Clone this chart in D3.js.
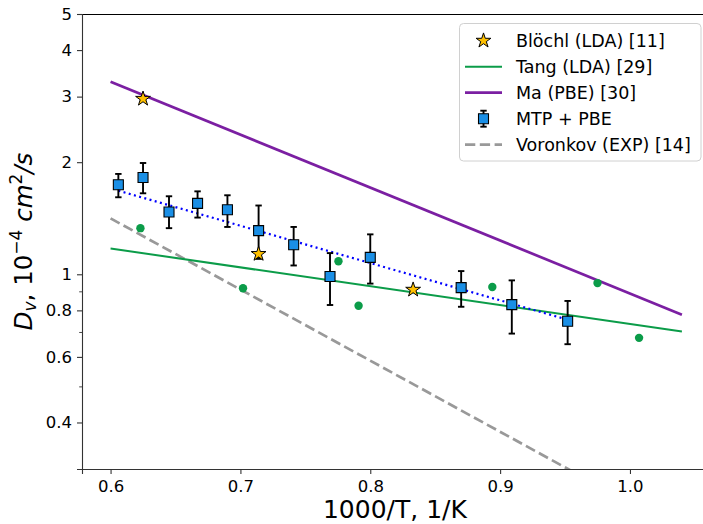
<!DOCTYPE html>
<html><head><meta charset="utf-8">
<script src="https://cdn.jsdelivr.net/npm/d3@7"></script>
<style>
html,body{margin:0;padding:0;background:#fff;}
svg{display:block;font-family:"DejaVu Sans",sans-serif;}
</style></head>
<body>
<svg id="chart" width="703" height="524"></svg>
<script>
// ---- data ----
const xTicks = [0.6, 0.7, 0.8, 0.9, 1.0];
const xTickLabels = ["0.6", "0.7", "0.8", "0.9", "1.0"];
const yMajorTicks = [0.4, 0.6, 0.8, 1, 2, 3, 4, 5];
const yMajorLabels = ["0.4", "0.6", "0.8", "1", "2", "3", "4", "5"];
const yMinorTicks = [0.3, 0.5, 0.7, 0.9];

const mtpX  = [0.606, 0.625, 0.645, 0.667, 0.690, 0.714, 0.741, 0.769, 0.800, 0.870, 0.909, 0.952];
const mtpY  = [1.74, 1.82, 1.47, 1.55, 1.49, 1.31, 1.20, 0.986, 1.11, 0.921, 0.829, 0.748];
const mtpLo = [1.61, 1.65, 1.33, 1.42, 1.34, 1.10, 1.056, 0.827, 0.944, 0.818, 0.693, 0.649];
const mtpHi = [1.86, 1.99, 1.62, 1.67, 1.63, 1.53, 1.34, 1.14, 1.28, 1.02, 0.963, 0.848];
const fitX = [0.606, 0.952];
const fitY = [1.677, 0.755];

const blochlX = [0.625, 0.714, 0.833];
const blochlY = [2.96, 1.134, 0.909];

const tangPtX = [0.623, 0.702, 0.7755, 0.791, 0.894, 0.975, 1.007];
const tangPtY = [1.33, 0.917, 1.084, 0.823, 0.924, 0.947, 0.675];
const tangX = [0.6, 1.04];
const tangY = [1.173, 0.702];

const maX = [0.6, 1.04];
const maY = [3.29, 0.779];

const vorX = [0.6, 1.04];
const vorY = [1.413, 0.204];

const legendLabels = ["Blöchl (LDA) [11]", "Tang (LDA) [29]", "Ma (PBE) [30]", "MTP + PBE", "Voronkov (EXP) [14]"];

// ---- layout ----
const svg = d3.select("#chart");
const L = 82, T = 14, B = 469;
const x = d3.scaleLinear().domain([0.578, 1.06]).range([L, L + 0.482 * 1298.5]);
const y = d3.scaleLog().domain([0.3, 5]).range([B, T]);
const R = x.range()[1];

const C = {
  star: "#ffc000", sq: "#1a8fe6", green: "#0b9c49", purple: "#7b1fa2",
  gray: "#999999", blue: "#0000ff"
};

svg.append("defs").append("clipPath").attr("id", "clip")
  .append("rect").attr("x", L).attr("y", T).attr("width", R - L).attr("height", B - T);

const plot = svg.append("g").attr("clip-path", "url(#clip)");
const line = d3.line().x(d => x(d[0])).y(d => y(d[1]));
const pairs = (xs, ys) => xs.map((v, i) => [v, ys[i]]);

// lines
plot.append("path").datum(pairs(vorX, vorY)).attr("d", line)
  .attr("fill", "none").attr("stroke", C.gray).attr("stroke-width", 2.7).attr("stroke-dasharray", "10.3,4.5");
plot.append("path").datum(pairs(tangX, tangY)).attr("d", line)
  .attr("fill", "none").attr("stroke", C.green).attr("stroke-width", 2);
plot.append("path").datum(pairs(maX, maY)).attr("d", line)
  .attr("fill", "none").attr("stroke", C.purple).attr("stroke-width", 2.7);

// Tang points
plot.selectAll("circle.tang").data(pairs(tangPtX, tangPtY)).enter().append("circle")
  .attr("cx", d => x(d[0])).attr("cy", d => y(d[1])).attr("r", 4.2).attr("fill", C.green);

// fit line
plot.append("path").datum(pairs(fitX, fitY)).attr("d", line)
  .attr("fill", "none").attr("stroke", C.blue).attr("stroke-width", 2.2).attr("stroke-dasharray", "2,3.4");

// error bars
const eb = plot.selectAll("g.eb").data(mtpX.map((v, i) => i)).enter().append("g");
eb.append("line").attr("x1", i => x(mtpX[i])).attr("x2", i => x(mtpX[i]))
  .attr("y1", i => y(mtpLo[i])).attr("y2", i => y(mtpHi[i])).attr("stroke", "#000").attr("stroke-width", 1.9);
[mtpLo, mtpHi].forEach(arr => {
  eb.append("line").attr("x1", i => x(mtpX[i]) - 3.2).attr("x2", i => x(mtpX[i]) + 3.2)
    .attr("y1", i => y(arr[i])).attr("y2", i => y(arr[i])).attr("stroke", "#000").attr("stroke-width", 1.9);
});
const sq = d3.symbol().type(d3.symbolSquare).size(100);
plot.selectAll("path.sq").data(pairs(mtpX, mtpY)).enter().append("path")
  .attr("d", sq).attr("transform", d => `translate(${x(d[0])},${y(d[1])})`)
  .attr("fill", C.sq).attr("stroke", "#000").attr("stroke-width", 1.1);

// stars
const star = d3.symbol().type(d3.symbolStar).size(68);
plot.selectAll("path.star").data(pairs(blochlX, blochlY)).enter().append("path")
  .attr("d", star).attr("transform", d => `translate(${x(d[0])},${y(d[1])})`)
  .attr("fill", C.star).attr("stroke", "#000").attr("stroke-width", 1);

// ---- axes ----
const ax = svg.append("g");
ax.append("line").attr("x1", L).attr("x2", R).attr("y1", T + 0.5).attr("y2", T + 0.5).attr("stroke", "#000").attr("stroke-width", 1.1);
ax.append("line").attr("x1", R).attr("x2", R).attr("y1", T).attr("y2", B).attr("stroke", "#000").attr("stroke-width", 1.1);

const xAxis = d3.axisBottom(x).tickValues(xTicks).tickSize(5).tickPadding(6)
  .tickFormat((d, i) => xTickLabels[i]);
const gx = svg.append("g").attr("transform", `translate(0,${B})`).call(xAxis);
gx.select(".domain").attr("stroke", "#333").attr("stroke-width", 1.1);
gx.selectAll(".tick line").attr("stroke", "#333").attr("stroke-width", 1.1);
gx.selectAll(".tick text").attr("font-size", 16.5).attr("font-family", "DejaVu Sans").attr("fill", "#000");

const yAxis = d3.axisLeft(y).tickValues(yMajorTicks).tickSize(5).tickPadding(5)
  .tickFormat((d, i) => yMajorLabels[i]);
const gy = svg.append("g").attr("transform", `translate(${L},0)`).call(yAxis);
gy.select(".domain").attr("stroke", "#333").attr("stroke-width", 1.1);
gy.selectAll(".tick line").attr("stroke", "#333").attr("stroke-width", 1.1);
gy.selectAll(".tick text").attr("font-size", 16.5).attr("font-family", "DejaVu Sans").attr("fill", "#000");
const yAxisMinor = d3.axisLeft(y).tickValues(yMinorTicks).tickSize(2.8).tickFormat("");
const gym = svg.append("g").attr("transform", `translate(${L},0)`).call(yAxisMinor);
gym.select(".domain").remove();
gym.selectAll(".tick line").attr("stroke", "#333").attr("stroke-width", 0.9);

// axis labels
svg.append("text").attr("x", (L + R) / 2).attr("y", 518).attr("text-anchor", "middle")
  .attr("font-size", 25).attr("fill", "#000").text("1000/T, 1/K");

const yl = svg.append("text").attr("transform", `translate(32,${(T + B) / 2}) rotate(-90)`)
  .attr("text-anchor", "middle").attr("font-size", 24.5).attr("fill", "#000");
yl.append("tspan").attr("font-style", "italic").text("D");
yl.append("tspan").attr("font-style", "italic").attr("font-size", 17).attr("dy", 4).text("v");
yl.append("tspan").attr("dy", -4).text(", 10");
yl.append("tspan").attr("font-size", 17).attr("dy", -10).text("−4");
yl.append("tspan").attr("dy", 10).text(" ");
yl.append("tspan").attr("font-style", "italic").text("cm");
yl.append("tspan").attr("font-size", 17).attr("dy", -10).text("2");
yl.append("tspan").attr("font-style", "italic").attr("dy", 10).text("/s");

// ---- legend ----
const lg = svg.append("g");
lg.append("rect").attr("x", 459.5).attr("y", 23.5).attr("width", 241.5).attr("height", 137.5)
  .attr("rx", 4).attr("fill", "#fff").attr("fill-opacity", 0.8).attr("stroke", "#d0d0d0").attr("stroke-width", 1);
const rowY = i => 40.7 + i * 26;
const hx0 = 465, hx1 = 502, hxc = 483.5;
// row 0: star
lg.append("path").attr("d", star).attr("transform", `translate(${hxc},${rowY(0)})`)
  .attr("fill", C.star).attr("stroke", "#000").attr("stroke-width", 1);
// row 1: Tang line
lg.append("line").attr("x1", hx0).attr("x2", hx1).attr("y1", rowY(1)).attr("y2", rowY(1)).attr("stroke", C.green).attr("stroke-width", 2);
// row 2: Ma line
lg.append("line").attr("x1", hx0).attr("x2", hx1).attr("y1", rowY(2)).attr("y2", rowY(2)).attr("stroke", C.purple).attr("stroke-width", 2.7);
// row 3: errorbar square
lg.append("line").attr("x1", hxc).attr("x2", hxc).attr("y1", rowY(3) - 8).attr("y2", rowY(3) + 8).attr("stroke", "#000").attr("stroke-width", 1.9);
[-8, 8].forEach(o => lg.append("line").attr("x1", hxc - 3.2).attr("x2", hxc + 3.2).attr("y1", rowY(3) + o).attr("y2", rowY(3) + o).attr("stroke", "#000").attr("stroke-width", 1.9));
lg.append("path").attr("d", sq).attr("transform", `translate(${hxc},${rowY(3)})`)
  .attr("fill", C.sq).attr("stroke", "#000").attr("stroke-width", 1.1);
// row 4: dashed
lg.append("line").attr("x1", hx0).attr("x2", hx1).attr("y1", rowY(4)).attr("y2", rowY(4)).attr("stroke", C.gray).attr("stroke-width", 2.7).attr("stroke-dasharray", "10.3,4.5");

lg.selectAll("text.lbl").data(legendLabels).enter().append("text")
  .attr("x", 516).attr("y", (d, i) => rowY(i)).attr("dy", "0.36em")
  .attr("font-size", 17.5).attr("fill", "#000").text(d => d);
</script>
</body></html>
